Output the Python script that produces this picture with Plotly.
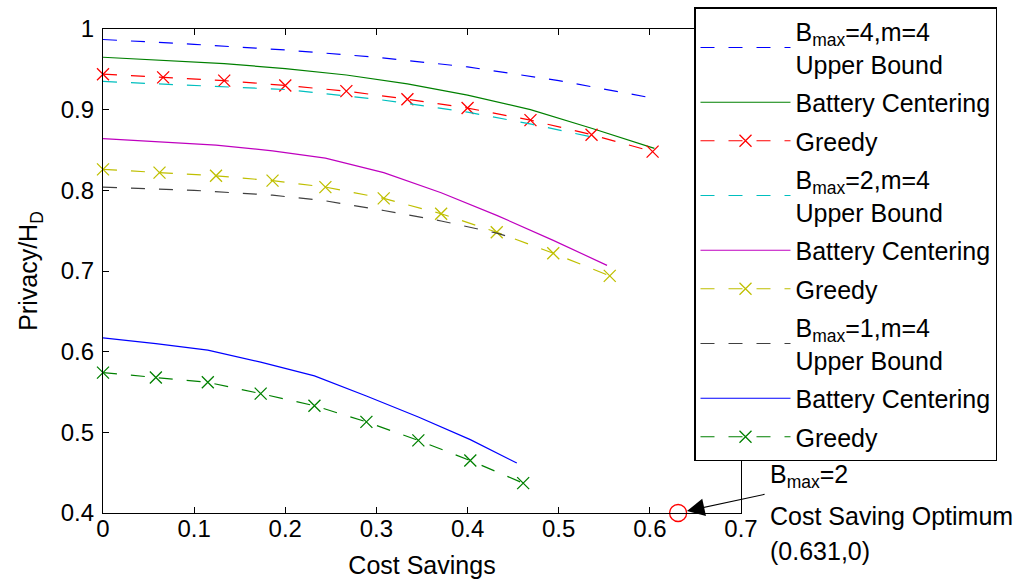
import plotly.graph_objects as go

# ---- data ----
ub4_x = [0, 0.1, 0.2, 0.3, 0.4, 0.5, 0.6]
ub4_y = [0.987, 0.981, 0.974, 0.965, 0.953, 0.936, 0.915]

bc4_x = [0, 0.066, 0.133, 0.2, 0.267, 0.334, 0.4, 0.469, 0.536, 0.605]
bc4_y = [0.965, 0.961, 0.957, 0.951, 0.943, 0.932, 0.918, 0.900, 0.877, 0.852]

gr4_x = [0, 0.066, 0.133, 0.2, 0.267, 0.334, 0.4, 0.469, 0.536, 0.603]
gr4_y = [0.944, 0.940, 0.936, 0.930, 0.923, 0.913, 0.902, 0.887, 0.869, 0.848]

ub2_x = [0, 0.1, 0.2, 0.3, 0.4, 0.47, 0.545]
ub2_y = [0.935, 0.930, 0.925, 0.913, 0.897, 0.882, 0.864]

bc2_x = [0, 0.062, 0.124, 0.186, 0.244, 0.308, 0.371, 0.432, 0.494, 0.553]
bc2_y = [0.864, 0.860, 0.856, 0.849, 0.840, 0.822, 0.797, 0.769, 0.738, 0.707]

gr2_x = [0, 0.062, 0.124, 0.186, 0.244, 0.308, 0.371, 0.432, 0.494, 0.556]
gr2_y = [0.826, 0.822, 0.818, 0.812, 0.804, 0.790, 0.771, 0.748, 0.722, 0.694]

ub1_x = [0, 0.1, 0.186, 0.244, 0.308, 0.371, 0.432, 0.455]
ub1_y = [0.804, 0.800, 0.794, 0.787, 0.775, 0.762, 0.747, 0.739]

bc1_x = [0, 0.058, 0.115, 0.173, 0.232, 0.289, 0.346, 0.403, 0.454]
bc1_y = [0.617, 0.610, 0.602, 0.587, 0.570, 0.545, 0.519, 0.491, 0.462]

gr1_x = [0, 0.058, 0.115, 0.173, 0.232, 0.289, 0.346, 0.403, 0.461]
gr1_y = [0.574, 0.568, 0.562, 0.548, 0.533, 0.513, 0.490, 0.465, 0.437]

opt_x = [0.631]
opt_y = [0.4]

names = [
    "B<sub>max</sub>=4,m=4<br>Upper Bound", "Battery Centering", "Greedy",
    "B<sub>max</sub>=2,m=4<br>Upper Bound", "Battery Centering", "Greedy",
    "B<sub>max</sub>=1,m=4<br>Upper Bound", "Battery Centering", "Greedy",
]
note_lines = ["B<sub>max</sub>=2", "Cost Saving Optimum", "(0.631,0)"]
x_ticks = [0, 0.1, 0.2, 0.3, 0.4, 0.5, 0.6, 0.7]
y_ticks = [0.4, 0.5, 0.6, 0.7, 0.8, 0.9, 1.0]

FONT = "Liberation Sans, Arial, Helvetica, sans-serif"
DASH = "14px,14px"

W, H = 1028, 583
ML, MR, MT, MB = 103, 287, 29, 70
PW, PH = W - ML - MR, H - MT - MB


def px_x(px):
    return (px - ML) / PW


def px_y(py):
    return (H - MB - py) / PH


series = [
    (ub4_x, ub4_y, "rgb(0,0,255)", "ub"),
    (bc4_x, bc4_y, "rgb(0,128,0)", "bc"),
    (gr4_x, gr4_y, "rgb(255,0,0)", "gr"),
    (ub2_x, ub2_y, "rgb(0,191,191)", "ub"),
    (bc2_x, bc2_y, "rgb(191,0,191)", "bc"),
    (gr2_x, gr2_y, "rgb(191,191,0)", "gr"),
    (ub1_x, ub1_y, "rgb(64,64,64)", "ub"),
    (bc1_x, bc1_y, "rgb(0,0,255)", "bc"),
    (gr1_x, gr1_y, "rgb(0,128,0)", "gr"),
]

fig = go.Figure()
for i, ((xs, ys, col, kind), nm) in enumerate(zip(series, names)):
    common = dict(x=xs, y=ys, name=nm, legendgroup=f"g{i}", cliponaxis=False)
    if kind == "ub":
        fig.add_trace(go.Scatter(mode="lines",
                                 line=dict(color=col, width=1.2, dash=DASH), **common))
    elif kind == "bc":
        fig.add_trace(go.Scatter(mode="lines",
                                 line=dict(color=col, width=1.2), **common))
    else:
        fig.add_trace(go.Scatter(mode="lines+markers",
                                 line=dict(color=col, width=1.2, dash=DASH),
                                 marker=dict(symbol="x-thin", size=12,
                                             line=dict(color=col, width=1.3)),
                                 **common))

fig.add_trace(go.Scatter(x=opt_x, y=opt_y, mode="markers", showlegend=False,
                         marker=dict(symbol="circle-open", size=17,
                                     color="rgb(255,0,0)", line=dict(width=1.3)),
                         cliponaxis=False))

fig.add_annotation(x=opt_x[0], y=opt_y[0], xref="x", yref="y", text="",
                   showarrow=True, ax=88, ay=-19, standoff=9,
                   arrowhead=2, arrowsize=3.2, arrowwidth=1.1, arrowcolor="black")
for line, cy in zip(note_lines, [476, 516, 551]):
    fig.add_annotation(x=px_x(768), y=px_y(cy), xref="paper", yref="paper",
                       xanchor="left", yanchor="middle", align="left", showarrow=False,
                       text=line, font=dict(family=FONT, size=25, color="black"))

axis_common = dict(showline=True, linecolor="black", linewidth=1.3, mirror="ticks",
                   ticks="inside", ticklen=6, tickcolor="black", tickwidth=1.2,
                   showgrid=False, zeroline=False, automargin=False,
                   tickfont=dict(family=FONT, size=24, color="black"))

fig.update_layout(
    width=W, height=H,
    margin=dict(l=ML, r=MR, t=MT, b=MB, autoexpand=False),
    paper_bgcolor="white", plot_bgcolor="white",
    font=dict(family=FONT, size=24, color="black"),
    xaxis=dict(range=[0, 0.7], tickvals=x_ticks, ticktext=[f"{v:g}" for v in x_ticks],
               title=dict(text="Cost Savings", font=dict(family=FONT, size=25)),
               ticklabelstandoff=-6, **axis_common),
    yaxis=dict(range=[0.4, 1.0], tickvals=y_ticks, ticktext=[f"{v:g}" for v in y_ticks],
               title=dict(text="Privacy/H<sub>D</sub>", font=dict(family=FONT, size=25)),
               ticklabelstandoff=3, **axis_common),
    legend=dict(x=px_x(694), y=px_y(7), xanchor="left", yanchor="top",
                bgcolor="white", bordercolor="black", borderwidth=1.5,
                font=dict(family=FONT, size=25, color="black"),
                itemwidth=90, tracegroupgap=3, traceorder="grouped",
                maxheight=560),
    showlegend=True,
)

fig.write_html("out.html")
